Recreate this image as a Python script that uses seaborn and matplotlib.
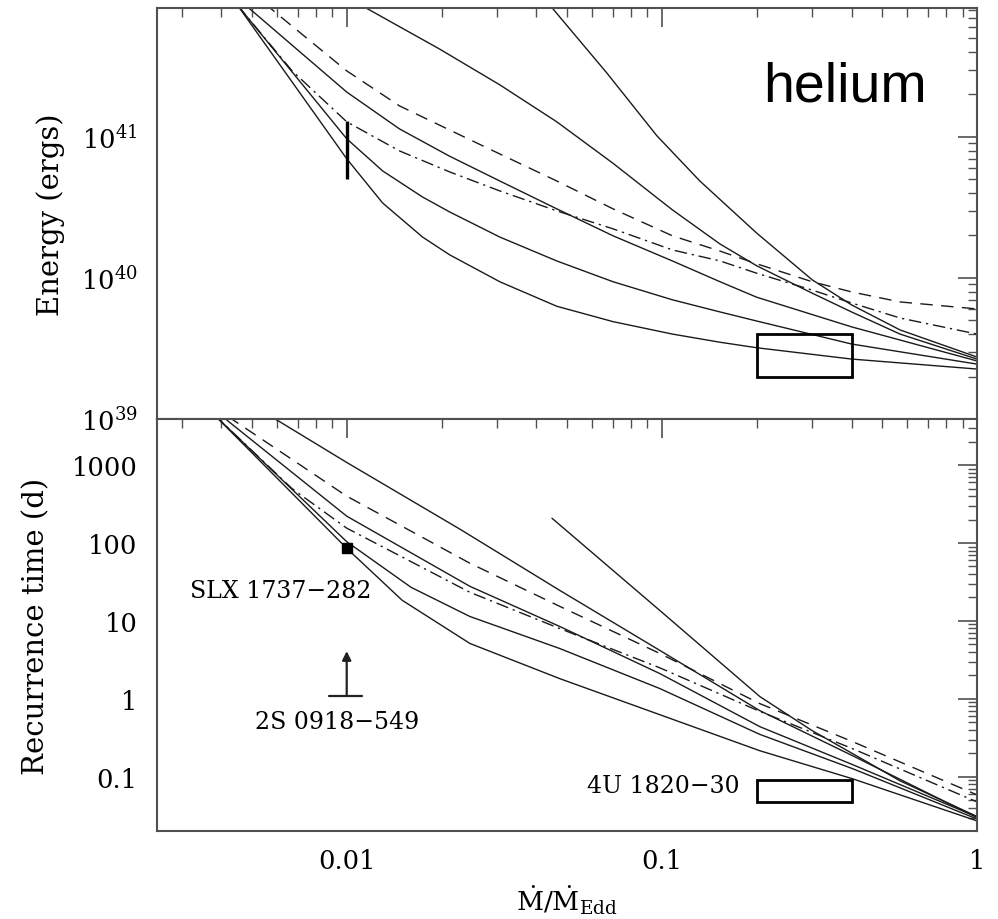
import matplotlib
matplotlib.use("Agg")
import matplotlib.pyplot as plt
from matplotlib.patches import Rectangle
from matplotlib.ticker import FixedLocator, FixedFormatter, LogLocator, NullFormatter
import pandas as pd
import seaborn as sns

sns.set_style("white")
plt.rcParams["font.family"] = ["DejaVu Serif"]
plt.rcParams["mathtext.fontset"] = "dejavuserif"
plt.rcParams["text.color"] = "black"
plt.rcParams["axes.labelcolor"] = "black"
plt.rcParams["xtick.color"] = "black"
plt.rcParams["ytick.color"] = "black"

# ---------------- burst energy (upper panel) ----------------
energy_a_mdot = [0.0045, 0.01, 0.013, 0.0174, 0.0212, 0.0306, 0.0464, 0.070, 0.108, 0.153, 0.20, 0.40, 1.0]
energy_a = [8.6e41, 7.0e40, 3.40e40, 1.95e40, 1.46e40, 9.4e39, 6.3e39, 4.9e39, 4.0e39, 3.5e39, 3.2e39, 2.66e39, 2.26e39]

energy_b_mdot = [0.0045, 0.0067, 0.01, 0.013, 0.0174, 0.0212, 0.0306, 0.0464, 0.070, 0.108, 0.153, 0.20, 0.40, 1.0]
energy_b = [8.6e41, 2.9e41, 9.7e40, 5.74e40, 3.75e40, 2.94e40, 1.95e40, 1.32e40, 9.4e39, 7.0e39, 5.74e39, 4.95e39, 3.4e39, 2.45e39]

energy_c_mdot = [0.0048, 0.01, 0.0147, 0.0212, 0.0306, 0.0464, 0.070, 0.108, 0.153, 0.20, 0.40, 1.0]
energy_c = [8.5e41, 2.08e41, 1.14e41, 7.3e40, 4.87e40, 3.09e40, 1.99e40, 1.32e40, 9.4e39, 7.3e39, 4.5e39, 2.58e39]

energy_e_mdot = [0.0113, 0.0197, 0.0306, 0.0464, 0.070, 0.108, 0.153, 0.20, 0.30, 0.40, 0.57, 1.0]
energy_e = [8.4e41, 4.2e41, 2.34e41, 1.28e41, 6.5e40, 3.04e40, 1.74e40, 1.22e40, 7.8e39, 5.74e39, 4.0e39, 2.66e39]

energy_f_mdot = [0.0441, 0.0669, 0.0964, 0.132, 0.20, 0.30, 0.40, 0.57, 1.0]
energy_f = [8.6e41, 2.84e41, 1.02e41, 4.87e40, 2.08e40, 9.7e39, 6.44e39, 4.28e39, 2.75e39]

energy_dash_mdot = [0.0055, 0.00613, 0.01, 0.0147, 0.0212, 0.0306, 0.0464, 0.070, 0.108, 0.153, 0.20, 0.30, 0.40, 0.57, 1.0]
energy_dash = [8.8e41, 7.2e41, 2.94e41, 1.66e41, 1.12e41, 7.57e40, 4.87e40, 3.09e40, 1.99e40, 1.55e40, 1.26e40, 9.4e39, 7.96e39, 6.76e39, 6.03e39]

energy_dashdot_mdot = [0.0045, 0.0067, 0.01, 0.0147, 0.0212, 0.0306, 0.0464, 0.070, 0.108, 0.153, 0.20, 0.30, 0.40, 0.57, 1.0]
energy_dashdot = [8.6e41, 2.95e41, 1.28e41, 7.96e40, 5.65e40, 4.14e40, 2.99e40, 2.23e40, 1.58e40, 1.32e40, 1.08e40, 8.2e39, 6.65e39, 5.2e39, 4.0e39]

# ---------------- recurrence time (lower panel) ----------------
trec_a_mdot = [0.0038, 0.01, 0.015, 0.0246, 0.0474, 0.0986, 0.2047, 0.4036, 1.0]
trec_a = [4400, 85.5, 18.4, 5.14, 1.82, 0.626, 0.216, 0.0942, 0.0272]

trec_b_mdot = [0.0038, 0.01, 0.016, 0.0246, 0.0474, 0.0986, 0.2047, 0.4036, 1.0]
trec_b = [4400, 104, 27, 11.4, 4.43, 1.355, 0.35, 0.127, 0.0288]

trec_c_mdot = [0.004, 0.01, 0.0246, 0.0474, 0.0986, 0.2047, 0.4036, 1.0]
trec_c = [4300, 221, 27.8, 8.5, 2.11, 0.44, 0.143, 0.0306]

trec_e_mdot = [0.0057, 0.01, 0.0229, 0.0474, 0.0986, 0.2047, 0.4036, 1.0]
trec_e = [4300, 1080, 150, 24.7, 4.18, 0.706, 0.186, 0.030]

trec_f_mdot = [0.0448, 0.0986, 0.2047, 0.30, 0.4036, 0.57, 1.0]
trec_f = [208, 13.6, 1.07, 0.391, 0.198, 0.0888, 0.031]

trec_dash_mdot = [0.0042, 0.01, 0.0246, 0.0474, 0.0986, 0.2047, 0.4036, 1.0]
trec_dash = [4200, 399, 55, 15.4, 3.82, 0.869, 0.282, 0.0587]

trec_dashdot_mdot = [0.0038, 0.0067, 0.01, 0.0246, 0.0474, 0.0986, 0.2047, 0.4036, 1.0]
trec_dashdot = [4400, 500, 155, 23.3, 8.0, 2.5, 0.69, 0.229, 0.0477]

# ---------------- observed sources ----------------
slx_mdot = 0.01
slx_trec = 86
slx_energy_range = [5e40, 1.3e41]
s2_mdot_bar = [0.0088, 0.0112]
s2_trec_min = 1.1
s2_trec_arrow = 4.1
u1820_mdot_range = [0.2, 0.4]
u1820_energy_range = [2e39, 4e39]
u1820_trec_range = [0.048, 0.09]

# ---------------- axes ticks ----------------
x_ticks = [0.01, 0.1, 1]
x_tick_labels = ["0.01", "0.1", "1"]
energy_ticks = [1e39, 1e40, 1e41]
energy_tick_labels = [r"$10^{39}$", r"$10^{40}$", r"$10^{41}$"]
trec_ticks = [0.1, 1, 10, 100, 1000]
trec_tick_labels = ["0.1", "1", "10", "100", "1000"]

solid = "-"
dashed = (0, (9, 6))
dashdot = (0, (9, 3.5, 1.6, 3.5))

energy_curves = [
    (energy_a_mdot, energy_a, solid),
    (energy_b_mdot, energy_b, solid),
    (energy_c_mdot, energy_c, solid),
    (energy_e_mdot, energy_e, solid),
    (energy_f_mdot, energy_f, solid),
    (energy_dash_mdot, energy_dash, dashed),
    (energy_dashdot_mdot, energy_dashdot, dashdot),
]
trec_curves = [
    (trec_a_mdot, trec_a, solid),
    (trec_b_mdot, trec_b, solid),
    (trec_c_mdot, trec_c, solid),
    (trec_e_mdot, trec_e, solid),
    (trec_f_mdot, trec_f, solid),
    (trec_dash_mdot, trec_dash, dashed),
    (trec_dashdot_mdot, trec_dashdot, dashdot),
]

line_color = "#1a1a1a"
frame_color = "#505050"

fig = plt.figure(figsize=(9.98, 9.20), dpi=100)
ax_e = fig.add_axes([0.1573, 0.5435, 0.8216, 0.4467])
ax_t = fig.add_axes([0.1573, 0.0957, 0.8216, 0.4478])


def style_axes(ax):
    ax.set_xscale("log")
    ax.set_yscale("log")
    ax.set_xlim(0.0025, 1.0)
    ax.xaxis.set_major_locator(FixedLocator(x_ticks))
    ax.xaxis.set_minor_locator(LogLocator(base=10, subs=range(2, 10), numticks=30))
    ax.yaxis.set_minor_locator(LogLocator(base=10, subs=range(2, 10), numticks=30))
    ax.xaxis.set_minor_formatter(NullFormatter())
    ax.yaxis.set_minor_formatter(NullFormatter())
    ax.tick_params(which="both", direction="in", top=True, right=True,
                   color=frame_color, labelcolor="black")
    ax.tick_params(which="major", length=13.5, width=1.2, labelsize=18.5)
    ax.tick_params(which="minor", length=6.5, width=1.0)
    ax.tick_params(axis="y", which="major", pad=14)
    ax.tick_params(axis="x", which="major", pad=12)
    for s in ax.spines.values():
        s.set_color(frame_color)
        s.set_linewidth(1.5)
    ax.grid(False)


def draw_curves(ax, curves):
    for mdot, vals, ls in curves:
        df = pd.DataFrame({"mdot": mdot, "value": vals})
        sns.lineplot(data=df, x="mdot", y="value", ax=ax, color=line_color,
                     linewidth=1.0, linestyle=ls, estimator=None, sort=True)


# upper panel: burst energy
style_axes(ax_e)
draw_curves(ax_e, energy_curves)
ax_e.set_ylim(1e39, 8.2e41)
ax_e.yaxis.set_major_locator(FixedLocator(energy_ticks))
ax_e.yaxis.set_major_formatter(FixedFormatter(energy_tick_labels))
ax_e.xaxis.set_major_formatter(NullFormatter())
ax_e.set_xlabel("")
ax_e.set_ylabel("Energy (ergs)", fontsize=21)
ax_e.yaxis.set_label_coords(-0.112, 0.5)
ax_e.plot([slx_mdot, slx_mdot], slx_energy_range, color="black", lw=2.4,
          solid_capstyle="butt")
ax_e.add_patch(Rectangle((u1820_mdot_range[0], u1820_energy_range[0]),
                         u1820_mdot_range[1] - u1820_mdot_range[0],
                         u1820_energy_range[1] - u1820_energy_range[0],
                         fill=False, ec="black", lw=2.0, zorder=5))
ax_e.text(0.939, 0.774, "helium", transform=ax_e.transAxes, ha="right",
          va="baseline", fontsize=40, color="black",
          family=["Liberation Sans", "DejaVu Sans"])

# lower panel: recurrence time
style_axes(ax_t)
draw_curves(ax_t, trec_curves)
ax_t.set_ylim(0.0202, 3900)
ax_t.yaxis.set_major_locator(FixedLocator(trec_ticks))
ax_t.yaxis.set_major_formatter(FixedFormatter(trec_tick_labels))
ax_t.xaxis.set_major_formatter(FixedFormatter(x_tick_labels))
ax_t.set_ylabel("Recurrence time (d)", fontsize=21)
ax_t.yaxis.set_label_coords(-0.13, 0.5)
ax_t.set_xlabel(r"$\dot{\rm M}/\dot{\rm M}_{\rm Edd}$", fontsize=19)
ax_t.xaxis.set_label_coords(0.5, -0.125)

ax_t.plot([slx_mdot], [slx_trec], marker="s", ms=7, color="black", zorder=6)
ax_t.text(0.00616, 24.7, "SLX 1737\u2212282", ha="center", va="center", fontsize=17)
ax_t.plot(s2_mdot_bar, [s2_trec_min, s2_trec_min], color="#222222", lw=1.6)
ax_t.annotate("", xy=(slx_mdot, s2_trec_arrow), xytext=(slx_mdot, s2_trec_min),
              arrowprops=dict(arrowstyle="-|>", color="#222222", lw=1.6,
                              mutation_scale=13, shrinkA=0, shrinkB=0))
ax_t.text(0.00929, 0.51, "2S 0918\u2212549", ha="center", va="center", fontsize=17)
ax_t.add_patch(Rectangle((u1820_mdot_range[0], u1820_trec_range[0]),
                         u1820_mdot_range[1] - u1820_mdot_range[0],
                         u1820_trec_range[1] - u1820_trec_range[0],
                         fill=False, ec="black", lw=2.0, zorder=5))
ax_t.text(0.177, 0.0766, "4U 1820\u221230", ha="right", va="center", fontsize=17)

fig.savefig("out.png", dpi=100)
